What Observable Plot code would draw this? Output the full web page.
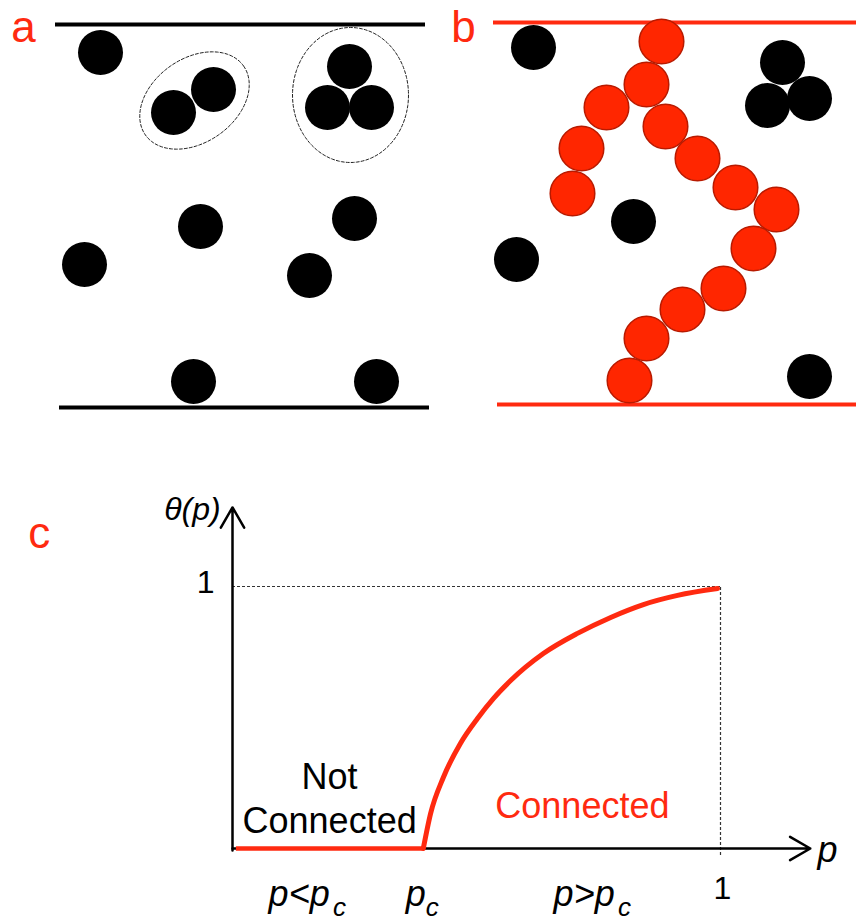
<!DOCTYPE html>
<html><head><meta charset="utf-8">
<script src="https://cdn.jsdelivr.net/npm/d3@7"></script>
<script src="https://cdn.jsdelivr.net/npm/@observablehq/plot@0.6"></script>
<style>body{margin:0;background:#fff} #chart svg{display:block}</style>
</head><body><div id="chart"></div>
<script>
// ---------- Panels a and b (diagram coordinates, px-like units) ----------
const blackAX = [100, 173, 213, 349, 327, 371, 200, 354, 84, 309, 193, 376];
const blackAY = [52, 112, 89, 66, 107, 107, 226, 218, 264, 275, 381, 381];
const blackBX = [533, 782, 767, 809, 633, 516, 809];
const blackBY = [47, 62, 105, 98, 221, 259, 376];
const redBX = [661, 646, 606, 581, 572, 665, 697, 735, 776, 753, 723, 682, 646, 629];
const redBY = [41, 84, 107, 148, 193, 126, 158, 187, 209, 248, 288, 309, 338, 380];
const wallsA = {y: [24, 407], x1: [55, 59], x2: [425, 429]};
const wallsB = {y: [22, 404], x1: [493, 497], x2: [856, 856]};
const clusterIds = [1, 2];
const clusterCx = [194, 350];
const clusterCy = [100, 94.5];
const clusterRx = [60, 58];
const clusterRy = [42, 67.5];
const clusterAngle = [-35, 0];
const panelLabels = ["a", "b"];
const panelLabelX = [23, 463];
const panelLabelY = [41, 41];

// ---------- Panel c (p, theta) ----------
const curveP = [0.391, 0.406, 0.432, 0.467, 0.502, 0.535, 0.570, 0.637, 0.707, 0.775, 0.842, 0.912, 0.994];
const curveTheta = [0, 0.134, 0.271, 0.401, 0.496, 0.573, 0.641, 0.744, 0.821, 0.882, 0.931, 0.966, 0.992];
const pc = 0.391;
const cTexts = ["Not", "Connected", "Connected", "1", "1", "θ(p)", "p", "p<p", "p", "p>p", "c", "c", "c"];

const RED = "#ff2a10";
const FONT = "'Liberation Sans', Arial, Helvetica, sans-serif";

const zip = (xs, ys) => xs.map((x, i) => ({x, y: ys[i]}));
const blackDots = zip(blackAX, blackAY).concat(zip(blackBX, blackBY));
const redDots = zip(redBX, redBY);
const toRules = w => w.y.map((y, i) => ({y, x1: w.x1[i], x2: w.x2[i]}));

// outline of the dashed cluster ellipses
const ellipsePts = clusterIds.flatMap((id, i) => {
  const phi = clusterAngle[i] * Math.PI / 180;
  return d3.range(0, 360, 3).map(deg => {
    const t = deg * Math.PI / 180;
    const a = clusterRx[i] * Math.cos(t), b = clusterRy[i] * Math.sin(t);
    return {id, x: clusterCx[i] + a * Math.cos(phi) - b * Math.sin(phi),
                y: clusterCy[i] + a * Math.sin(phi) + b * Math.cos(phi)};
  });
});

const topPlot = Plot.plot({
  width: 856, height: 430, margin: 0,
  x: {domain: [0, 856], axis: null},
  y: {domain: [0, 430], reverse: true, axis: null},
  style: {background: "white", fontFamily: FONT},
  marks: [
    Plot.ruleY(toRules(wallsA), {y: "y", x1: "x1", x2: "x2", stroke: "black", strokeWidth: 4}),
    Plot.ruleY(toRules(wallsB), {y: "y", x1: "x1", x2: "x2", stroke: RED, strokeWidth: 4}),
    Plot.line(ellipsePts, {x: "x", y: "y", z: "id", curve: "linear-closed", stroke: "#222", strokeWidth: 1, strokeDasharray: "3,2"}),
    Plot.dot(blackDots, {x: "x", y: "y", r: 22.5, fill: "black"}),
    Plot.dot(redDots, {x: "x", y: "y", r: 22.3, fill: "#ff2600", stroke: "#b81a00", strokeWidth: 1.5}),
    Plot.text(panelLabels, {x: (d, i) => panelLabelX[i], y: (d, i) => panelLabelY[i], text: d => d,
      fill: RED, fontSize: 44, lineAnchor: "bottom", fontFamily: FONT})
  ]
});

const curve = curveP.map((p, i) => ({p, t: curveTheta[i]}));
const tx = [0.199, 0.199, 0.717, -0.055, 1.004, -0.082, 1.199, 0.074, 0.355, 0.658, 0.206, 0.396, 0.790];
const ty = [0.229, 0.061, 0.115, 0.977, -0.191, 1.252, -0.053, -0.218, -0.218, -0.218, -0.256, -0.256, -0.256];
const tSize = [36, 36, 36, 32, 32, 32, 36, 36, 36, 36, 26, 26, 26];
const tColor = ["black", "black", RED, "black", "black", "black", "black", "black", "black", "black", "black", "black", "black"];
const tStyle = ["normal", "normal", "normal", "normal", "normal", "italic", "italic", "italic", "italic", "italic", "italic", "italic", "italic"];
const tAnchor = ["middle", "middle", "middle", "middle", "middle", "middle", "start", "start", "start", "start", "start", "start", "start"];
const textRows = cTexts.map((text, i) => ({text, x: tx[i], y: ty[i], size: tSize[i], color: tColor[i], style: tStyle[i], anchor: tAnchor[i]}));

const textMarks = textRows.map(r => Plot.text([r], {x: "x", y: "y", text: "text", fontSize: r.size, fill: r.color,
  fontStyle: r.style, textAnchor: r.anchor, lineAnchor: "bottom", fontFamily: FONT}));

const botPlot = Plot.plot({
  width: 856, height: 490, marginLeft: 232, marginRight: 136, marginTop: 156, marginBottom: 72,
  x: {domain: [0, 1], axis: null},
  y: {domain: [0, 1], axis: null},
  style: {background: "white", fontFamily: FONT, overflow: "visible"},
  marks: [
    Plot.ruleY([1], {x1: 0, x2: 1, stroke: "#333", strokeWidth: 1.2, strokeDasharray: "3,2"}),
    Plot.ruleX([1], {y1: -0.027, y2: 1, stroke: "#333", strokeWidth: 1.2, strokeDasharray: "3,2"}),
    Plot.arrow([{x1: 0, y1: 0, x2: 1.184, y2: 0}], {x1: "x1", y1: "y1", x2: "x2", y2: "y2", stroke: "black", strokeWidth: 2.5, headLength: 14}),
    Plot.arrow([{x1: 0, y1: -0.008, x2: 0, y2: 1.302}], {x1: "x1", y1: "y1", x2: "x2", y2: "y2", stroke: "black", strokeWidth: 2.5, headLength: 14}),
    Plot.ruleY([0], {x1: 0.008, x2: pc, stroke: RED, strokeWidth: 4.5}),
    Plot.line(curve, {x: "p", y: "t", curve: "monotone-x", stroke: RED, strokeWidth: 5}),
    Plot.text(["c"], {x: -0.396, y: 1.148, text: d => d, fill: RED, fontSize: 44, lineAnchor: "bottom", fontFamily: FONT}),
    ...textMarks
  ]
});

const chart = document.getElementById("chart");
chart.append(topPlot, botPlot);
</script>
</body></html>
